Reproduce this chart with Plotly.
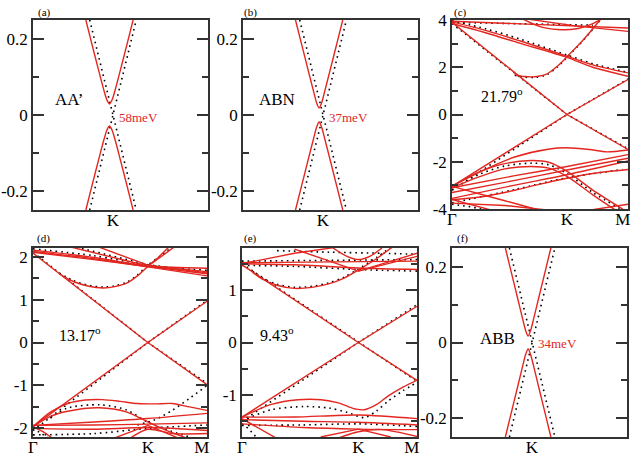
import plotly.graph_objects as go

W, H = 635, 463
RED = "#e3261f"
FRAME = "#333333"
FONT = "Liberation Serif, Times New Roman, serif"

# ---------------- data ----------------
# Panel (a) AA'  (k relative to K, energy in eV)
a_k = [-0.155, -0.12, -0.08, -0.05, -0.035, -0.02, -0.005, 0.01, 0.04, 0.08, 0.115]
a_up = [0.25, 0.186, 0.114, 0.062, 0.040, 0.029, 0.040, 0.062, 0.114, 0.186, 0.25]
a_dn = [-0.25, -0.186, -0.114, -0.062, -0.040, -0.029, -0.040, -0.062, -0.114, -0.186, -0.25]
a_dot_k = [-0.133, 0.133]
a_dot_1 = [0.25, -0.25]
a_dot_2 = [-0.25, 0.25]

# Panel (b) ABN
b_k = [-0.157, -0.122, -0.082, -0.052, -0.037, -0.022, -0.007, 0.008, 0.038, 0.078, 0.113]
b_up = [0.25, 0.186, 0.113, 0.059, 0.033, 0.0185, 0.033, 0.059, 0.113, 0.186, 0.25]
b_dn = [-0.25, -0.186, -0.113, -0.059, -0.033, -0.0185, -0.033, -0.059, -0.113, -0.186, -0.25]
b_dot_k = [-0.133, 0.134]
b_dot_1 = [0.25, -0.25]
b_dot_2 = [-0.25, 0.25]

# Panel (f) ABB
f_k = [-0.152, -0.122, -0.082, -0.052, -0.037, -0.022, -0.007, 0.008, 0.038, 0.078, 0.108]
f_up = [0.25, 0.193, 0.117, 0.060, 0.033, 0.017, 0.033, 0.060, 0.117, 0.193, 0.25]
f_dn = [-0.25, -0.193, -0.117, -0.060, -0.033, -0.017, -0.033, -0.060, -0.117, -0.193, -0.25]
f_dot_k = [-0.129, 0.131]
f_dot_1 = [0.25, -0.25]
f_dot_2 = [-0.25, 0.25]

# Panel (c) 21.79 deg : path G(0) - K(0.653) - M(1)
c_K = 0.653
c_red = [
    ([0, 0.653, 1], [3.9, 0, -1.48]),
    ([0, 0.653, 1], [-3.04, 0, 1.48]),
    ([0.356, 0.41, 0.47, 0.54, 0.6, 0.653, 0.72, 0.78, 0.84, 0.87], [1.69, 1.61, 1.6, 1.72, 2.05, 2.44, 2.95, 3.45, 4.0, 4.3]),
    ([0, 0.195, 0.384, 0.653, 0.8, 1], [3.92, 3.55, 3.12, 2.47, 2.1, 1.76]),
    ([0, 0.195, 0.384, 0.653, 0.8, 1], [3.85, 3.45, 3.02, 2.42, 2.0, 1.62]),
    ([0, 0.5, 1], [3.95, 3.82, 3.66]),
    ([0.42, 0.7, 1], [4.05, 3.75, 3.52]),
    ([0.4, 0.5, 0.6, 0.7, 0.8, 0.85], [4.05, 3.72, 3.6, 3.62, 3.85, 4.05]),
    ([0, 0.167, 0.356, 0.545, 0.65, 0.78, 0.88, 1.0], [-3.04, -2.4, -1.8, -1.47, -1.41, -1.48, -1.58, -1.5]),
    ([0, 0.15, 0.3, 0.45, 0.55, 0.653, 0.8, 0.97], [-3.04, -2.45, -2.08, -1.95, -2.02, -2.4, -3.2, -4.0]),
    ([0, 0.15, 0.3, 0.45, 0.55, 0.653, 0.8, 0.95], [-3.1, -2.65, -2.3, -2.2, -2.27, -2.62, -3.4, -4.15]),
    ([0, 0.35, 0.653, 1], [-3.1, -2.6, -2.2, -1.7]),
    ([0, 0.35, 0.653, 1], [-3.3, -2.8, -2.35, -1.85]),
    ([0, 0.35, 0.653, 1], [-3.55, -3.0, -2.55, -1.97]),
    ([0, 0.15, 0.3, 0.5, 0.653, 0.8, 1], [-3.6, -3.5, -3.3, -2.95, -2.7, -2.5, -2.33]),
    ([0, 0.2, 0.4, 0.52], [-3.04, -3.45, -3.85, -4.1]),
    ([0, 0.12, 0.25], [-3.6, -3.85, -4.1]),
    ([0, 0.3, 0.55], [-3.75, -3.85, -4.05]),
    ([0.78, 0.9, 1], [-4.05, -3.9, -3.8]),
]
c_dot = [
    ([0, 0.653, 1], [3.85, 0, -1.45]),
    ([0, 0.653, 1], [-3.2, 0, 1.5]),
    ([0.356, 0.41, 0.47, 0.54, 0.6, 0.653, 0.72, 0.78, 0.84, 0.87], [1.66, 1.58, 1.57, 1.69, 2.02, 2.42, 2.93, 3.43, 3.98, 4.3]),
    ([0, 0.195, 0.384, 0.653, 0.8, 1], [3.97, 3.62, 3.2, 2.52, 2.15, 1.78]),
    ([0, 0.4, 0.8], [3.9, 3.85, 3.78]),
    ([0, 0.15, 0.3, 0.45, 0.55, 0.653, 0.8, 0.97], [-3.2, -2.55, -2.18, -2.06, -2.13, -2.5, -3.3, -4.05]),
    ([0, 0.356, 0.65, 0.97], [-3.74, -3.18, -2.68, -2.33]),
    ([0, 0.1, 0.2], [-3.8, -3.9, -4.05]),
]

# Panel (d) 13.17 deg : G(0) - K(0.66) - M(1)
d_K = 0.66
d_red = [
    ([0, 0.66, 1], [2.08, 0, -0.98]),
    ([0, 0.66, 1], [-1.96, 0, 0.96]),
    ([0.15, 0.232, 0.32, 0.404, 0.47, 0.538, 0.6, 0.66, 0.73, 0.81], [1.6, 1.42, 1.31, 1.27, 1.3, 1.38, 1.55, 1.77, 1.98, 2.22]),
    ([0, 0.35, 0.66, 1], [2.15, 1.98, 1.78, 1.73]),
    ([0, 0.35, 0.66, 1], [2.1, 1.93, 1.77, 1.6]),
    ([0, 0.35, 0.66, 1], [2.12, 1.95, 1.76, 1.55]),
    ([0.22, 0.66, 1], [2.22, 1.78, 1.65]),
    ([0.38, 0.66, 1], [2.22, 1.8, 1.62]),
    ([0.66, 0.72, 0.78], [1.78, 1.98, 2.22]),
    ([0, 0.1, 0.2, 0.3, 0.4, 0.5, 0.6, 0.7, 0.8, 0.9, 1.0], [-1.96, -1.62, -1.42, -1.34, -1.33, -1.37, -1.42, -1.43, -1.42, -1.5, -1.58]),
    ([0, 0.1, 0.2, 0.38, 0.54, 0.66, 0.77, 0.9], [-1.96, -1.72, -1.6, -1.52, -1.62, -1.85, -2.05, -2.25]),
    ([0, 0.35, 0.66, 1], [-1.93, -1.85, -1.77, -1.65]),
    ([0, 0.35, 0.66, 1], [-1.93, -1.92, -1.9, -1.87]),
    ([0, 0.35, 0.66, 1], [-2.0, -2.02, -1.98, -2.05]),
    ([0, 0.06, 0.12], [-1.96, -2.08, -2.25]),
    ([0.45, 0.66, 0.85], [-2.25, -1.93, -2.25]),
    ([0.55, 0.66, 0.8, 1], [-2.25, -2.02, -2.12, -2.12]),
]
d_dot = [
    ([0, 0.66, 1], [2.1, 0, -0.95]),
    ([0, 0.66, 1], [-2.05, 0, 0.98]),
    ([0.15, 0.232, 0.32, 0.404, 0.47, 0.538, 0.6, 0.66, 0.73, 0.81], [1.62, 1.44, 1.33, 1.29, 1.32, 1.4, 1.57, 1.8, 2.01, 2.25]),
    ([0, 0.35, 0.66, 1], [2.18, 2.02, 1.8, 1.68]),
    ([0.25, 0.66, 1], [2.22, 1.81, 1.63]),
    ([0.1, 0.194, 0.385, 0.538, 0.653, 0.768, 0.9], [-1.76, -1.53, -1.45, -1.57, -1.84, -2.03, -2.2]),
    ([0.6, 0.7, 0.8, 0.9, 1.0], [-1.92, -1.8, -1.58, -1.3, -1.0]),
    ([0, 0.35, 0.66, 1], [-2.15, -2.12, -2.0, -1.92]),
    ([0, 0.05, 0.1], [-2.0, -2.12, -2.25]),
]

# Panel (e) 9.43 deg : G(0) - K(0.665) - M(1)
e_K = 0.665
e_red = [
    ([0, 0.665, 1], [1.48, 0, -0.72]),
    ([0, 0.665, 1], [-1.42, 0, 0.69]),
    ([0.06, 0.12, 0.2, 0.3, 0.4, 0.5, 0.58, 0.665, 0.77, 0.86], [1.34, 1.2, 1.09, 1.03, 1.05, 1.12, 1.22, 1.38, 1.6, 1.82]),
    ([0, 0.3, 0.665, 1], [1.5, 1.48, 1.42, 1.39]),
    ([0, 0.5, 1], [1.52, 1.53, 1.55]),
    ([0, 0.3, 0.55], [1.5, 1.7, 1.82]),
    ([0.3, 0.665, 1], [1.78, 1.36, 1.64]),
    ([0.665, 0.8, 1], [1.36, 1.5, 1.7]),
    ([0.52, 0.6, 0.665, 0.73, 0.8], [1.8, 1.64, 1.58, 1.64, 1.8]),
    ([0, 0.168, 0.32, 0.453, 0.55, 0.606, 0.653, 0.7, 0.77, 0.834, 0.92, 1.0],
     [-1.42, -1.18, -1.09, -1.09, -1.15, -1.22, -1.27, -1.28, -1.18, -1.02, -0.85, -0.72]),
    ([0, 0.3, 0.665, 1], [-1.42, -1.42, -1.38, -1.45]),
    ([0, 0.35, 0.665, 1], [-1.47, -1.5, -1.52, -1.57]),
    ([0, 0.35, 0.665, 1], [-1.55, -1.62, -1.65, -1.66]),
    ([0, 0.1, 0.2], [-1.45, -1.64, -1.83]),
    ([0.45, 0.665, 0.85], [-1.8, -1.65, -1.8]),
    ([0.55, 0.665, 0.8, 1], [-1.82, -1.7, -1.66, -1.79]),
]
e_dot = [
    ([0, 0.665, 1], [1.5, 0, -0.74]),
    ([0, 0.665, 1], [-1.5, 0, 0.72]),
    ([0.06, 0.12, 0.2, 0.3, 0.4, 0.5, 0.58, 0.665, 0.77, 0.86], [1.36, 1.22, 1.11, 1.05, 1.07, 1.14, 1.24, 1.4, 1.62, 1.84]),
    ([0, 0.5, 1], [1.55, 1.57, 1.58]),
    ([0, 0.3, 0.665, 1], [1.47, 1.45, 1.39, 1.36]),
    ([0.2, 0.5, 0.8, 1], [1.75, 1.72, 1.7, 1.68]),
    ([0.03, 0.168, 0.356, 0.5, 0.6, 0.7, 0.77, 0.834, 0.92, 1.0],
     [-1.45, -1.28, -1.22, -1.25, -1.33, -1.43, -1.3, -1.12, -0.92, -0.76]),
    ([0, 0.35, 0.665, 1], [-1.58, -1.57, -1.55, -1.6]),
    ([0, 0.04, 0.08], [-1.55, -1.65, -1.8]),
]

# axis settings (tick values / labels)
gap_yrange = [-0.25, 0.25]
gap_yticks = [-0.2, 0, 0.2]
gap_ylabels = ["-0.2", "0", "0.2"]
gap_yminor = [-0.1, 0.1]
gap_xrange = [-0.457, 0.543]

c_yticks = [-4, -2, 0, 2, 4]
c_ylabels = ["-4", "-2", "0", "2", "4"]
c_yminor = [-3, -1, 1, 3]
d_yticks = [-2, -1, 0, 1, 2]
d_ylabels = ["-2", "-1", "0", "1", "2"]
d_yminor = [-1.5, -0.5, 0.5, 1.5]
e_yticks = [-1, 0, 1]
e_ylabels = ["-1", "0", "1"]
e_yminor = [-1.5, -0.5, 0.5, 1.5]
path_labels = ["Γ", "K", "M"]
path_label_end = 0.97

# ---------------- figure ----------------
fig = go.Figure()


def add(panel, x, y, kind):
    xa = "x" if panel == 1 else f"x{panel}"
    ya = "y" if panel == 1 else f"y{panel}"
    shape = "linear" if len(x) <= 3 else "spline"
    if kind == "red":
        line = dict(color=RED, width=1.4, shape=shape, smoothing=0.8)
    else:
        line = dict(color="black", width=1.6, dash="1.6px,4px", shape=shape, smoothing=0.8)
    fig.add_trace(go.Scatter(x=x, y=y, mode="lines", line=line, xaxis=xa, yaxis=ya,
                             showlegend=False, hoverinfo="skip"))


for p, k, up, dn, dk, d1, d2 in [
    (1, a_k, a_up, a_dn, a_dot_k, a_dot_1, a_dot_2),
    (2, b_k, b_up, b_dn, b_dot_k, b_dot_1, b_dot_2),
    (6, f_k, f_up, f_dn, f_dot_k, f_dot_1, f_dot_2),
]:
    add(p, dk, d1, "dot")
    add(p, dk, d2, "dot")
    add(p, k, up, "red")
    add(p, k, dn, "red")

for p, dots, reds in [(3, c_dot, c_red), (4, d_dot, d_red), (5, e_dot, e_red)]:
    for x, y in dots:
        add(p, x, y, "dot")
    for x, y in reds:
        add(p, x, y, "red")

boxes = {
    1: (33, 208, 20, 210),
    2: (243, 418, 20, 210),
    3: (452, 628, 20, 209),
    4: (33, 207, 248, 437),
    5: (242, 417, 248, 437),
    6: (452, 627, 248, 437),
}
yconf = {
    1: (gap_yrange, gap_yticks, gap_ylabels, gap_yminor),
    2: (gap_yrange, gap_yticks, gap_ylabels, gap_yminor),
    6: (gap_yrange, gap_yticks, gap_ylabels, gap_yminor),
    3: ([-4, 4], c_yticks, c_ylabels, c_yminor),
    4: ([-2.2, 2.2], d_yticks, d_ylabels, d_yminor),
    5: ([-1.8, 1.8], e_yticks, e_ylabels, e_yminor),
}
xconf = {
    1: (gap_xrange, [0], ["K"]),
    2: (gap_xrange, [0], ["K"]),
    6: (gap_xrange, [0], ["K"]),
    3: ([0, 1], [0, c_K, path_label_end], path_labels),
    4: ([0, 1], [0, d_K, path_label_end], path_labels),
    5: ([0, 1], [0, e_K, path_label_end], path_labels),
}

layout = dict(template="none", width=W, height=H, margin=dict(l=0, r=0, t=0, b=0, pad=0),
              paper_bgcolor="white", plot_bgcolor="white", showlegend=False,
              font=dict(family=FONT, color="black"))
for p, (l, r, t, b) in boxes.items():
    sfx = "" if p == 1 else str(p)
    xr, xt, xl = xconf[p]
    yr, yt, yl, ym = yconf[p]
    layout["xaxis" + sfx] = dict(
        domain=[l / W, r / W], range=xr, anchor="y" + sfx, automargin=False,
        showline=True, mirror=True, linecolor=FRAME, linewidth=1.5,
        ticks="", tickmode="array", tickvals=xt, ticktext=xl, showgrid=False, zeroline=False,
        ticklabelstandoff=-6,
        tickfont=dict(family=FONT, size=17, color="black"), fixedrange=True)
    layout["yaxis" + sfx] = dict(
        domain=[1 - b / H, 1 - t / H], range=yr, anchor="x" + sfx, automargin=False,
        showline=True, mirror="allticks", linecolor=FRAME, linewidth=1.5,
        ticks="inside", ticklen=11, tickwidth=1.5, tickcolor=FRAME,
        tickmode="array", tickvals=yt, ticktext=yl, showgrid=False, zeroline=False,
        minor=dict(ticks="inside", ticklen=6, tickwidth=1.5, tickcolor=FRAME,
                   tickmode="array", tickvals=ym, showgrid=False),
        tickfont=dict(family=FONT, size=17, color="black"), fixedrange=True)

anns = []


def txt(x, y, s, size, color="black", xanchor="center"):
    anns.append(dict(x=x / W, y=1 - y / H, xref="paper", yref="paper", text=s,
                     showarrow=False, xanchor=xanchor, yanchor="middle",
                     font=dict(family=FONT, size=size, color=color)))


txt(36, 12, "(a)", 11, xanchor="left")
txt(242, 12, "(b)", 11, xanchor="left")
txt(452, 12, "(c)", 11, xanchor="left")
txt(35, 238, "(d)", 11, xanchor="left")
txt(242, 238, "(e)", 11, xanchor="left")
txt(455, 238, "(f)", 11, xanchor="left")

txt(69, 100, "AA’", 17)
txt(138, 117, "58meV", 13, RED)
txt(277, 100, "ABN", 17)
txt(348, 117, "37meV", 13, RED)
txt(497, 338, "ABB", 17)
txt(557, 343, "34meV", 13, RED)
txt(479, 95, "21.79<sup>o</sup>", 16, xanchor="left")
txt(57, 334, "13.17<sup>o</sup>", 16, xanchor="left")
txt(258, 334, "9.43<sup>o</sup>", 16, xanchor="left")

layout["annotations"] = anns
fig.update_layout(**layout)
fig.write_html(
    "out.html",
    config={"displayModeBar": False},
    post_script="document.body.style.margin='0';document.body.style.padding='0';"
                "document.documentElement.style.overflow='hidden';",
)
